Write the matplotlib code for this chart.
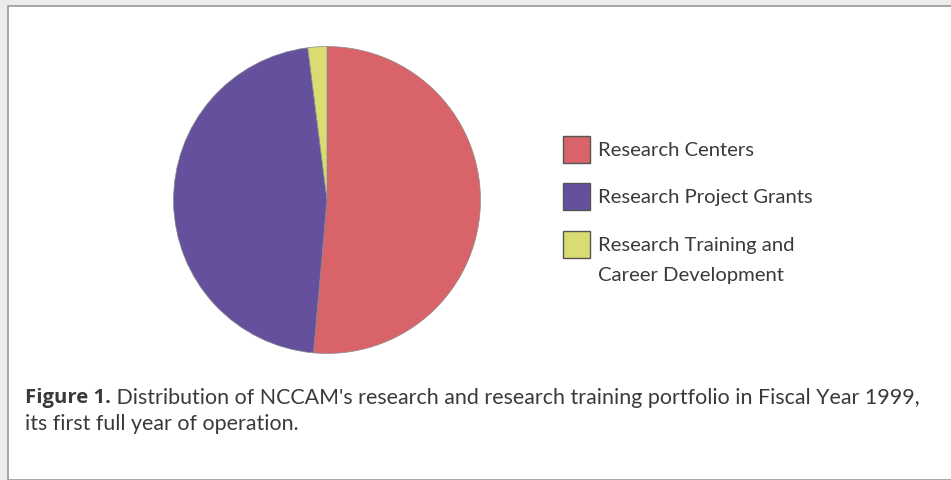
import matplotlib.pyplot as plt
from matplotlib.patches import Rectangle

# FY1999 portfolio shares (percent)
categories = ['Research Centers', 'Research Project Grants',
              'Research Training and\nCareer Development']
shares = [51.4, 46.6, 2.0]
colors = ['#d8646a', '#65509d', '#d8dc72']

caption_bold = 'Figure 1.'
caption_rest = (" Distribution of NCCAM's research and research training "
                "portfolio in Fiscal Year 1999,")
caption_line2 = 'its first full year of operation.'

W, H = 951, 480
fig = plt.figure(figsize=(W / 100, H / 100), dpi=100)
fig.patch.set_facecolor('#ececec')

# white page with thin grey edge on top/left
page = Rectangle((8 / W, 0), 1, 1 - 6 / H, transform=fig.transFigure,
                 facecolor='white', edgecolor='#9a9a9a', linewidth=1.2,
                 zorder=-10)
fig.patches.append(page)

# pie: centre (327, 200) px, radius 155 px
cx, cy, r = 327, 200, 155
ax = fig.add_axes([(cx - r) / W, (H - cy - r) / H, 2 * r / W, 2 * r / H])
ax.set_zorder(5)
ax.patch.set_alpha(0)
wedges, _ = ax.pie(shares, colors=colors, startangle=90, counterclock=False,
                   wedgeprops=dict(edgecolor='#8a8a8a', linewidth=0.5))
ax.set_xlim(-1.01, 1.01)
ax.set_ylim(-1.01, 1.01)

# legend drawn by hand so the 2-line label sits like the original
font = 'Lato'
box_x, box_w = 563, 27
box_tops = [136, 183, 231]
for label, color, top in zip(categories, colors, box_tops):
    fig.patches.append(Rectangle((box_x / W, (H - top - box_w) / H),
                                 box_w / W, box_w / H,
                                 transform=fig.transFigure, facecolor=color,
                                 edgecolor='#555555', linewidth=1.0))
    for k, line in enumerate(label.split('\n')):
        ypx = top + 15 + 29 * k
        fig.text(598 / W, (H - ypx) / H, line, ha='left', va='center',
                 fontsize=14.6, family=font, color='#3a3a3a')

# caption
fs = 15.4
t = fig.text(25 / W, (H - 398) / H, caption_bold, ha='left', va='center',
             fontsize=14.6, family='Open Sans', fontweight='bold',
             color='#3a3a3a')
fig.canvas.draw()
bb = t.get_window_extent()
fig.text(bb.x1 / W, (H - 398) / H, caption_rest, ha='left', va='center',
         fontsize=fs, family=font, color='#3a3a3a')
fig.text(25 / W, (H - 424) / H, caption_line2, ha='left', va='center',
         fontsize=fs, family=font, color='#3a3a3a')

fig.savefig('out.png', dpi=100, facecolor=fig.get_facecolor())
